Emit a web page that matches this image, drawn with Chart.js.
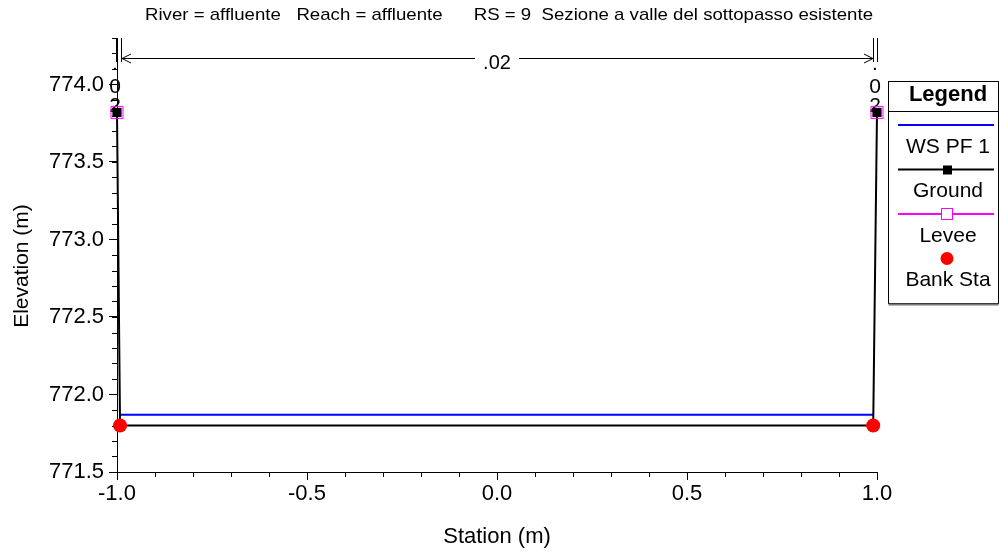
<!DOCTYPE html>
<html>
<head>
<meta charset="utf-8">
<script src="https://cdn.jsdelivr.net/npm/chart.js@4.4.1/dist/chart.umd.min.js"></script>
<style>
  html, body { margin: 0; padding: 0; background: #fff; }
  #wrap { width: 999px; height: 558px; }
</style>
</head>
<body>
<div id="wrap"><canvas id="chart" width="999" height="558"></canvas></div>
<script>
const chartTitle = 'River = affluente   Reach = affluente      RS = 9  Sezione a valle del sottopasso esistente';
const groundStation = [-1.0, -0.992, 0.99, 1.0];
const groundElev = [773.82, 771.8, 771.8, 773.82];
const wsStation = [-0.992, 0.99];
const wsElev = [771.87, 771.87];
const leveeStation = [-1.0, 1.0];
const leveeElev = [773.82, 773.82];
const bankStation = [-0.992, 0.99];
const bankElev = [771.8, 771.8];
const mannN = '.02';
const xTicks = [-1.0, -0.5, 0.0, 0.5, 1.0];
const yTicks = [771.5, 772.0, 772.5, 773.0, 773.5, 774.0];
const xRange = [-1.0, 1.0];
const yRange = [771.5, 774.3];

const FONT = '"Liberation Sans", Arial, sans-serif';
const pts = (xs, ys) => xs.map((v, i) => ({ x: v, y: ys[i] }));

const legendItems = [
    { label: 'WS PF 1', color: '#0000ff', line: true, marker: null },
    { label: 'Ground', color: '#000000', line: true, marker: 'filled' },
    { label: 'Levee', color: '#ff00ff', line: true, marker: 'open' },
    { label: 'Bank Sta', color: '#ff0000', line: false, marker: 'dot' }
];

const hecPlot = {
    id: 'hecPlot',
    beforeDatasetsDraw(chart) {
        const { ctx, chartArea: a, scales: { x, y } } = chart;
        ctx.save();
        ctx.strokeStyle = '#000';
        ctx.fillStyle = '#000';
        ctx.lineWidth = 1;

        // minor ticks
        ctx.beginPath();
        for (let i = 0; i <= 20; i++) {
            const px = Math.round(x.getPixelForValue(xRange[0] + i * 0.1)) + 0.5;
            ctx.moveTo(px, a.bottom);
            ctx.lineTo(px, a.bottom + 5);
        }
        for (let i = 0; i <= 28; i++) {
            const py = Math.round(y.getPixelForValue(yRange[0] + i * 0.1)) + 0.5;
            ctx.moveTo(a.left, py);
            ctx.lineTo(a.left - 5, py);
        }
        ctx.stroke();

        // n value bracket at the top
        const xl = Math.round(x.getPixelForValue(groundStation[0]));
        const xr = Math.round(x.getPixelForValue(groundStation[groundStation.length - 1]));
        const top = a.top, lineY = a.top + 20.5;
        ctx.beginPath();
        [xl - 0.5, xl + 4.5, xr - 3.5, xr + 0.5].forEach(px => {
            ctx.moveTo(px, top);
            ctx.lineTo(px, top + 24);
        });
        const mid = (xl + xr) / 2;
        ctx.moveTo(xl + 5, lineY); ctx.lineTo(mid - 22, lineY);
        ctx.moveTo(mid + 22, lineY); ctx.lineTo(xr - 4, lineY);
        // arrow heads
        ctx.moveTo(xl + 14, lineY - 4.5); ctx.lineTo(xl + 5, lineY); ctx.lineTo(xl + 14, lineY + 4.5);
        ctx.moveTo(xr - 13, lineY - 4.5); ctx.lineTo(xr - 4, lineY); ctx.lineTo(xr - 13, lineY + 4.5);
        ctx.stroke();

        ctx.font = '20px ' + FONT;
        ctx.textAlign = 'center';
        ctx.textBaseline = 'alphabetic';
        ctx.fillText(mannN, mid, lineY + 10);

        // vertical n labels at each boundary (stacked characters)
        ctx.font = '21px ' + FONT;
        const chars = mannN.split('');
        const baseOff = [32, 55, 74];
        [xl - 2, xr - 2].forEach(cx => {
            chars.forEach((ch, i) => {
                ctx.fillText(ch, cx, top + baseOff[i]);
            });
        });
        ctx.restore();
    },
    afterDraw(chart) {
        const { ctx, chartArea: a } = chart;
        ctx.save();
        ctx.fillStyle = '#000';

        // title (condensed)
        ctx.font = '17px ' + FONT;
        const w = ctx.measureText(chartTitle).width;
        const sx = 728 / w;
        ctx.translate(509, 15);
        ctx.scale(sx, 1);
        ctx.textAlign = 'center';
        ctx.textBaseline = 'middle';
        ctx.fillText(chartTitle, 0, 0);
        ctx.setTransform(1, 0, 0, 1, 0, 0);

        // axis titles
        ctx.textAlign = 'center';
        ctx.textBaseline = 'middle';
        ctx.font = '22px ' + FONT;
        ctx.fillText('Station (m)', (a.left + a.right) / 2, 537);
        ctx.font = '21px ' + FONT;
        ctx.translate(22, 266);
        ctx.rotate(-Math.PI / 2);
        ctx.fillText('Elevation (m)', 0, 0);
        ctx.setTransform(1, 0, 0, 1, 0, 0);

        // legend box
        const bx = 888.5, by = 81.5, bw = 110, bh = 222;
        ctx.fillStyle = '#fff';
        ctx.fillRect(bx, by, bw, bh);
        ctx.strokeStyle = '#000';
        ctx.lineWidth = 1;
        ctx.strokeRect(bx, by, bw, bh);
        ctx.strokeStyle = '#777';
        ctx.lineWidth = 2;
        ctx.beginPath();
        ctx.moveTo(bx, by + bh + 1); ctx.lineTo(bx + bw, by + bh + 1);
        ctx.stroke();
        ctx.strokeStyle = '#000';
        ctx.lineWidth = 1;
        ctx.beginPath();
        ctx.moveTo(bx, 111.5); ctx.lineTo(bx + bw, 111.5);
        ctx.stroke();

        ctx.fillStyle = '#000';
        ctx.font = 'bold 22px ' + FONT;
        ctx.fillText('Legend', 948, 95);
        ctx.font = '21px ' + FONT;
        const cx = 947;
        legendItems.forEach((it, i) => {
            const sy = 125 + i * 44.5;
            ctx.strokeStyle = it.color;
            ctx.fillStyle = it.color;
            if (it.line) {
                ctx.lineWidth = 2;
                ctx.beginPath();
                ctx.moveTo(898, sy); ctx.lineTo(994, sy);
                ctx.stroke();
            }
            if (it.marker === 'filled') {
                ctx.fillRect(cx - 4, sy - 4, 9, 9);
            } else if (it.marker === 'open') {
                ctx.lineWidth = 1;
                ctx.fillStyle = '#fff';
                ctx.fillRect(cx - 6, sy - 6, 12, 12);
                ctx.strokeRect(cx - 5.5, sy - 5.5, 11, 11);
            } else if (it.marker === 'dot') {
                ctx.beginPath();
                ctx.arc(cx, sy, 6.5, 0, Math.PI * 2);
                ctx.fill();
            }
            ctx.fillStyle = '#000';
            ctx.fillText(it.label, 948, sy + 22);
        });
        ctx.restore();
    }
};

const canvasBg = {
    id: 'canvasBg',
    beforeDraw(chart) {
        const ctx = chart.ctx;
        ctx.save();
        ctx.fillStyle = '#fff';
        ctx.fillRect(0, 0, chart.width, chart.height);
        ctx.restore();
    }
};

new Chart(document.getElementById('chart'), {
    type: 'scatter',
    data: {
        datasets: [
            {
                label: 'Bank Sta',
                data: pts(bankStation, bankElev),
                showLine: false,
                pointStyle: 'circle',
                pointRadius: 7,
                backgroundColor: '#ff0000',
                borderColor: '#ff0000',
                borderWidth: 0,
                clip: false
            },
            {
                label: 'Levee',
                data: pts(leveeStation, leveeElev),
                showLine: false,
                pointStyle: 'rect',
                pointRadius: 8.5,
                backgroundColor: 'rgba(0,0,0,0)',
                borderColor: '#ff00ff',
                pointBorderWidth: 1,
                clip: false
            },
            {
                label: 'Ground',
                data: pts(groundStation, groundElev),
                showLine: true,
                borderColor: '#000000',
                backgroundColor: '#000000',
                borderWidth: 2,
                pointStyle: 'rect',
                pointRadius: [6.5, 0, 0, 6.5],
                pointBorderWidth: 0,
                tension: 0,
                clip: false
            },
            {
                label: 'WS PF 1',
                data: pts(wsStation, wsElev),
                showLine: true,
                borderColor: '#0000ff',
                borderWidth: 2,
                pointRadius: 0,
                tension: 0,
                clip: false
            }
        ]
    },
    options: {
        responsive: false,
        animation: false,
        devicePixelRatio: 1,
        layout: { padding: { top: 38, right: 122, left: 0, bottom: 0 } },
        plugins: {
            legend: { display: false },
            tooltip: { enabled: false },
            title: { display: false }
        },
        scales: {
            x: {
                type: 'linear',
                min: xRange[0],
                max: xRange[1],
                afterBuildTicks: s => { s.ticks = xTicks.map(v => ({ value: v })); },
                afterFit: s => { s.height = 86; },
                ticks: {
                    color: '#000',
                    font: { family: FONT, size: 22 },
                    padding: 1,
                    maxRotation: 0,
                    callback: v => v.toFixed(1)
                },
                grid: { drawOnChartArea: false, color: '#000', tickLength: 8 },
                border: { color: '#000', width: 1 }
            },
            y: {
                type: 'linear',
                min: yRange[0],
                max: yRange[1],
                afterBuildTicks: s => { s.ticks = yTicks.map(v => ({ value: v })); },
                afterFit: s => { s.width = 117; },
                ticks: {
                    color: '#000',
                    font: { family: FONT, size: 22 },
                    padding: 5,
                    callback: v => v.toFixed(1)
                },
                grid: { drawOnChartArea: false, color: '#000', tickLength: 8 },
                border: { color: '#000', width: 1 }
            }
        }
    },
    plugins: [canvasBg, hecPlot]
});
</script>
</body>
</html>
